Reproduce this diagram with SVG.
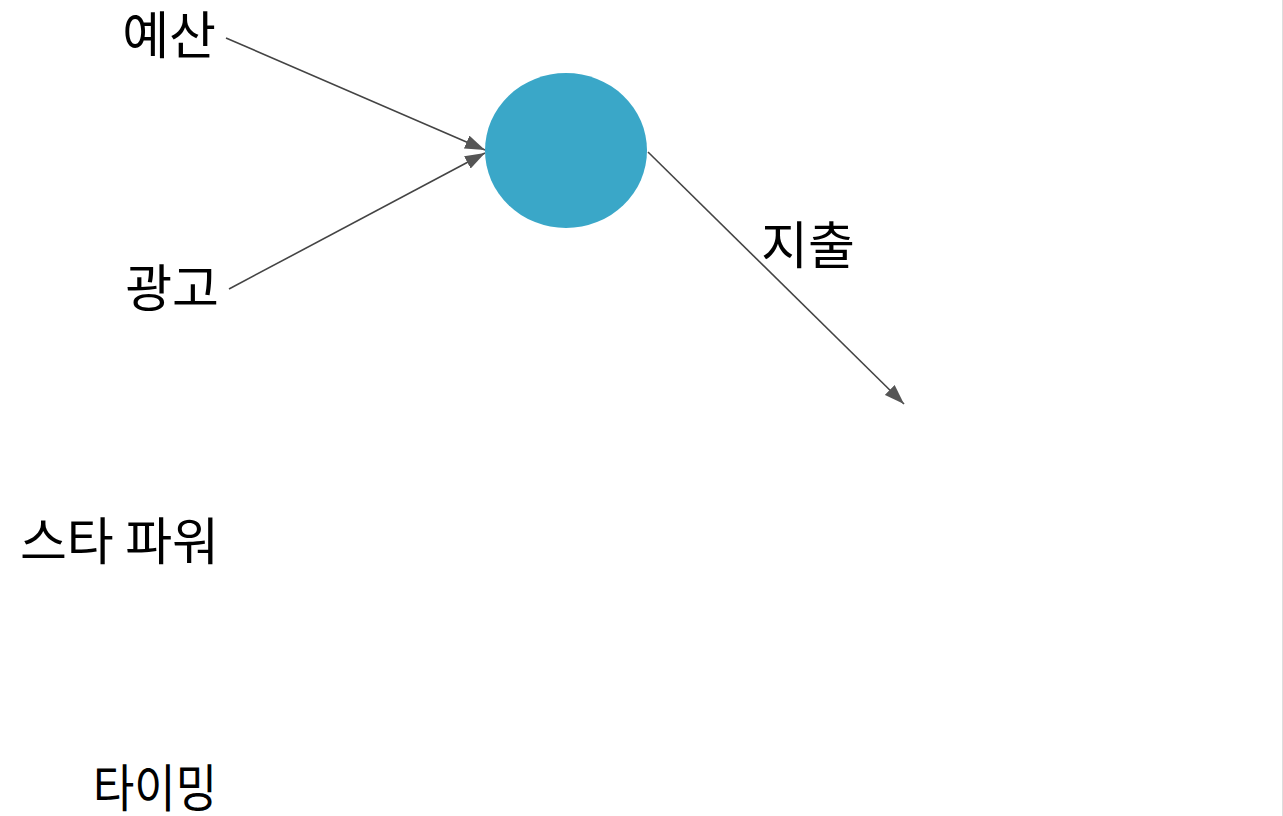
<svg xmlns="http://www.w3.org/2000/svg" width="1283" height="816" viewBox="0 0 1283 816">
<style>
.lbl{font-family:"Noto Sans CJK KR","Noto Sans",sans-serif;font-size:51px;fill:#000}
.edge{stroke:#444;stroke-width:1.6;fill:none;marker-end:url(#ah)}
</style>
<defs>
<marker id="ah" viewBox="0 0 20 14" refX="20" refY="7" markerWidth="20" markerHeight="14" markerUnits="userSpaceOnUse" orient="auto">
<path d="M0,0 L20,7 L0,14 z" fill="#555"/>
</marker>
</defs>
<rect width="1283" height="816" fill="#fff"/>
<line x1="1282.5" y1="0" x2="1282.5" y2="816" stroke="#ddd" stroke-width="1"/>
<g id="connectors">
<line class="edge" x1="226" y1="38" x2="485" y2="150"/>
<line class="edge" x1="229" y1="289" x2="485" y2="153"/>
<line class="edge" x1="648" y1="152" x2="904" y2="404"/>
</g>
<g id="node-center"><ellipse cx="566" cy="150.5" rx="81" ry="77.5" fill="#3AA7C8"/></g>
<g id="node-budget"><text class="lbl" x="216" y="54" text-anchor="end">예산</text></g>
<g id="node-ad"><text class="lbl" x="219" y="307" text-anchor="end">광고</text></g>
<g id="node-star"><text class="lbl" x="219" y="560" text-anchor="end">스타 파워</text></g>
<g id="node-timing"><text class="lbl" x="93" y="807" textLength="124" lengthAdjust="spacingAndGlyphs">타이밍</text></g>
<g id="label-spend"><text class="lbl" x="761" y="264">지출</text></g>
</svg>
